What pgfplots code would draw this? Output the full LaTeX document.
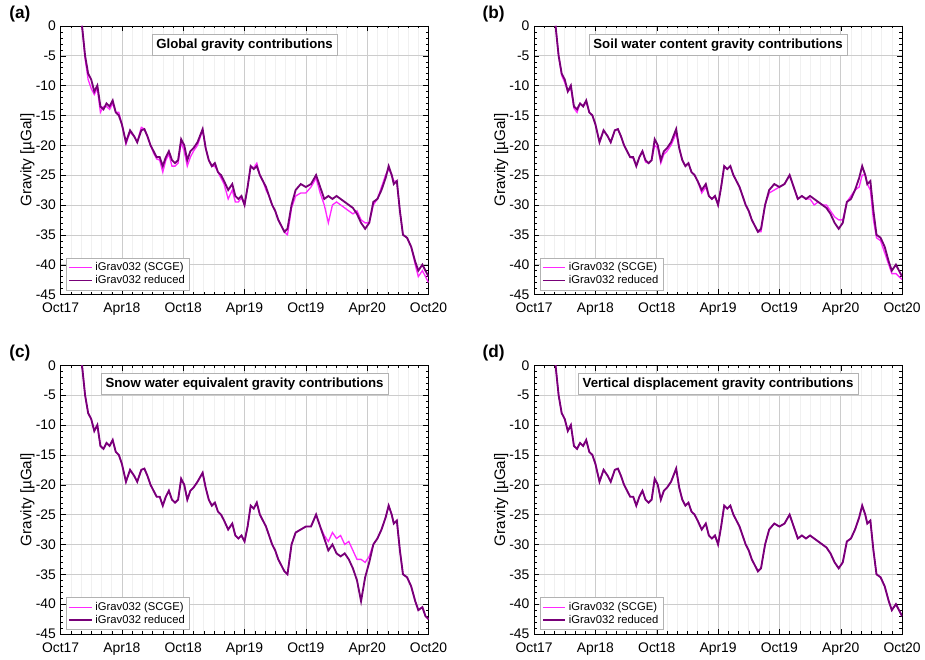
\documentclass[border=0pt]{standalone}
\usepackage{pgfplots}
\pgfplotsset{compat=1.18}
\usepackage{pgfplotstable}
\usepackage{fontspec}
\setmainfont{Liberation Sans}
\definecolor{scge}{RGB}{255,40,255}
\definecolor{red2}{RGB}{120,0,120}
\pgfplotstableread{
x red sa sb sc redc
2.1 0 0 0 0 0
2.4 -5 -5.5 -5 -5 -5
2.7 -8 -9 -8.3 -8 -8
3.0 -9 -10.5 -9.5 -9 -9
3.3 -11 -11.5 -11 -11 -11
3.6 -10 -10.5 -10.5 -10 -10
3.9 -13.5 -14.5 -13.8 -13.5 -13.5
4.2 -14 -13.5 -14.5 -14 -14
4.5 -13 -13.5 -13 -13 -13
4.8 -13.5 -14 -13.5 -13.5 -13.5
5.1 -12.5 -13 -12.8 -12.5 -12.5
5.4 -14.5 -14.5 -14.5 -14.5 -14.5
5.7 -15 -14.5 -15 -15 -15
6.0 -16.5 -16.5 -16.5 -16.5 -16.5
6.4 -19.5 -19.8 -19.5 -19.5 -19.5
6.8 -17.5 -17.8 -17.5 -17.5 -17.5
7.2 -18.5 -18.5 -18.5 -18.5 -18.5
7.5 -19.5 -19.5 -19.5 -19.5 -19.5
7.9 -17.5 -17 -17.5 -17.5 -17.5
8.2 -17.3 -17.3 -17.3 -17.3 -17.3
8.5 -18.5 -18.5 -18.5 -18.5 -18.5
8.8 -20 -20 -20 -20 -20
9.1 -21 -21.3 -21 -21 -21
9.4 -22 -22.3 -22 -22 -22
9.7 -22 -22.5 -22.2 -22 -22
10.0 -23.5 -24.5 -23.5 -23.5 -23.5
10.3 -22 -22.5 -22 -22 -22
10.6 -21 -21.5 -21 -21 -21
10.9 -22.5 -23.5 -22.8 -22.5 -22.5
11.2 -23 -23.5 -23 -23 -23
11.5 -22.5 -23 -22.5 -22.5 -22.5
11.8 -19 -19.5 -20 -19 -19
12.1 -20 -21 -20.5 -20 -20
12.4 -22.5 -23.5 -23 -22.5 -22.5
12.7 -21 -22 -21.5 -21 -21
13.0 -20.5 -21 -21 -20.5 -20.5
13.4 -19.5 -20 -20 -19.5 -19.5
13.9 -17.3 -17.5 -18 -18 -18
14.2 -20.5 -20.5 -20.5 -20.5 -20.5
14.5 -22.5 -22.5 -22.5 -22.5 -22.5
14.8 -23.5 -23.5 -23.5 -23.5 -23.5
15.1 -23 -23.5 -23 -23 -23
15.4 -24.5 -24.5 -24.5 -24.5 -24.5
15.7 -25 -25.5 -25 -25 -25
16.0 -26 -26.5 -26 -26 -26
16.4 -27.5 -29 -28 -27.5 -27.5
16.8 -26.5 -27.5 -27 -26.5 -26.5
17.1 -28.5 -29.5 -28.5 -28.5 -28.5
17.4 -29 -29.5 -29 -29 -29
17.7 -28.5 -28.8 -28.5 -28.5 -28.5
18.0 -30 -30 -30 -29.5 -29.5
18.3 -27 -27 -27 -27 -27
18.6 -23.5 -23.5 -23.5 -23.5 -23.5
18.9 -24 -23.8 -24 -24 -24
19.2 -23.5 -23 -23.5 -23 -23
19.5 -25 -25 -25 -25 -25
19.8 -26 -26 -26 -26 -26
20.1 -27 -27.5 -27 -27 -27
20.4 -28.5 -28.5 -28.5 -28.5 -28.5
20.7 -30 -30 -30 -30 -30
21.0 -31 -31 -31 -31 -31
21.3 -32.5 -32.5 -32.5 -32.5 -32.5
21.6 -33.5 -33.5 -33.5 -33.5 -33.5
21.9 -34.5 -34.5 -34.5 -34.5 -34.5
22.2 -34 -35 -34.5 -35 -35
22.6 -30 -30.5 -30 -30 -30
23.0 -27.5 -28.5 -28 -28 -28
23.5 -26.5 -28 -27.5 -27.5 -27.5
24.0 -27 -28 -27 -27 -27
24.5 -26.5 -27 -26.5 -27 -27
25.0 -25 -25.5 -25 -25 -25
25.4 -27 -28 -27 -27 -27
25.8 -29 -30 -29 -28.5 -29
26.2 -28.5 -33 -28.5 -29.5 -31
26.6 -29 -30 -29 -28 -30
27.0 -28.5 -29.5 -29 -29 -31.5
27.4 -29 -30 -30 -28.5 -32
27.8 -29.5 -30.5 -29.5 -30 -31.5
28.2 -30 -31 -30 -29.5 -32.5
28.6 -30.5 -31.5 -30 -31 -34
29.0 -31.5 -31 -31 -32.5 -36
29.4 -33 -32.5 -32 -32.5 -39.5
29.8 -34 -33 -32.5 -33 -35.5
30.2 -33 -33 -32.5 -32 -33
30.6 -29.5 -30 -29.5 -30 -30
31.0 -29 -29 -28.5 -29 -29
31.4 -27.5 -27 -27.5 -27.5 -27.5
31.8 -25.5 -25 -27 -25.5 -25.5
32.1 -23.5 -24 -25 -23.5 -23.5
32.4 -25 -25 -25 -25 -25
32.6 -26.5 -26 -26.5 -26.5 -26.5
32.9 -26 -26 -27.5 -26 -26
33.2 -31 -31 -32.5 -31 -31
33.5 -35 -35 -35.5 -35 -35
33.9 -35.5 -35.5 -36 -35.5 -35.5
34.3 -37 -37 -38 -37 -37
34.7 -39.5 -40 -40 -39.5 -39.5
35.0 -41 -42 -41.5 -41 -41
35.4 -40 -41 -41.5 -40.5 -40.5
35.7 -41 -42 -42 -42 -42
36.0 -42 -43 -42.5 -42.5 -42.5
}\data
\pgfplotsset{
 pan/.style={scale only axis, width=278pt, height=203pt, anchor=north west,
  xmin=0, xmax=36, ymin=-45, ymax=0,
  xtick={0,6,...,36}, xticklabels={Oct17,Apr18,Oct18,Apr19,Oct19,Apr20,Oct20},
  minor xtick={0,1,...,36}, ytick={-45,-40,...,0}, minor ytick={-45,-44,...,0},
  grid=both, major grid style={gray!40}, minor x grid style={gray!12},
  minor y grid style={draw=none},
  tick style={black}, tick align=inside, major tick length=4pt, minor tick length=2pt,
  ticklabel style={font=\fontsize{10.5}{12}\selectfont},
  xticklabel style={yshift=-3pt},
  /pgf/number format/assume math mode=true,
  ylabel={Gravity [µGal]}, ylabel style={font=\fontsize{11.5}{13}\selectfont, yshift=-6pt},
  legend style={at={(0.015,0.015)}, anchor=south west, font=\fontsize{8.5}{10}\selectfont, draw=gray!60, row sep=-2pt, inner sep=1.5pt},
  legend cell align=left},
}
\begin{document}
\begin{tikzpicture}
\path (0,0) rectangle (693.75pt,-495.75pt);
\begin{axis}[pan, at={(45.75pt,-19.5pt)}]
\addplot[color=scge, line width=1pt] table[x=x,y=sa]{\data}; \addlegendentry{iGrav032 (SCGE)}
\addplot[color=red2, line width=1.4pt] table[x=x,y=red]{\data}; \addlegendentry{iGrav032 reduced}
\node[draw=gray!60, fill=white, font=\bfseries\fontsize{10}{12}\selectfont] at (axis description cs:0.5,0.93) {Global gravity contributions};
\end{axis}
\begin{axis}[pan, at={(403.5pt,-19.5pt)}]
\addplot[color=scge, line width=1pt] table[x=x,y=sb]{\data}; \addlegendentry{iGrav032 (SCGE)}
\addplot[color=red2, line width=1.4pt] table[x=x,y=red]{\data}; \addlegendentry{iGrav032 reduced}
\node[draw=gray!60, fill=white, font=\bfseries\fontsize{10}{12}\selectfont] at (axis description cs:0.5,0.93) {Soil water content gravity contributions};
\end{axis}
\begin{axis}[pan, at={(45.75pt,-276pt)}]
\addplot[color=scge, line width=1pt] table[x=x,y=sc]{\data}; \addlegendentry{iGrav032 (SCGE)}
\addplot[color=red2, line width=1.4pt] table[x=x,y=redc]{\data}; \addlegendentry{iGrav032 reduced}
\node[draw=gray!60, fill=white, font=\bfseries\fontsize{10}{12}\selectfont] at (axis description cs:0.5,0.93) {Snow water equivalent gravity contributions};
\end{axis}
\begin{axis}[pan, at={(403.5pt,-276pt)}]
\addplot[color=scge, line width=1pt] table[x=x,y=red]{\data}; \addlegendentry{iGrav032 (SCGE)}
\addplot[color=red2, line width=1.4pt] table[x=x,y=red]{\data}; \addlegendentry{iGrav032 reduced}
\node[draw=gray!60, fill=white, font=\bfseries\fontsize{10}{12}\selectfont] at (axis description cs:0.5,0.93) {Vertical displacement gravity contributions};
\end{axis}
\node[font=\bfseries\fontsize{13}{15}\selectfont] at (15pt,-10.5pt) {(a)};
\node[font=\bfseries\fontsize{13}{15}\selectfont] at (373pt,-10.5pt) {(b)};
\node[font=\bfseries\fontsize{13}{15}\selectfont] at (15pt,-267pt) {(c)};
\node[font=\bfseries\fontsize{13}{15}\selectfont] at (373pt,-267pt) {(d)};
\end{tikzpicture}
\end{document}
